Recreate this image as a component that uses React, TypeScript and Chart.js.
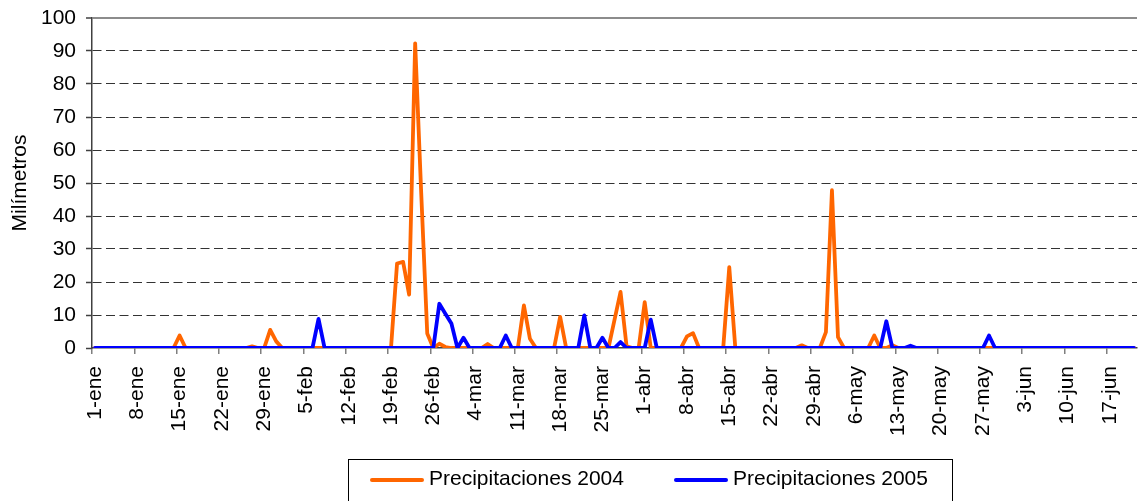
import React, { useEffect, useRef } from 'react';
import { Chart, registerables } from 'chart.js';

Chart.register(...registerables);

// ---------- data ----------
const monthNames = ['ene', 'feb', 'mar', 'abr', 'may', 'jun'];
const monthDays = [31, 29, 31, 30, 31, 21];
const categories: string[] = [];
monthNames.forEach((m, k) => {
  for (let d = 1; d <= monthDays[k]; d++) categories.push(`${d}-${m}`);
});
const labelEvery = 7;

const seriesNames = ['Precipitaciones 2004', 'Precipitaciones 2005'];
const seriesColors = ['#FF6600', '#0000FF'];

// one row per week (7 days)
const precip2004 = [
  0, 0, 0, 0, 0, 0, 0,
  0, 0, 0, 0, 0, 0, 0,
  3.8, 0, 0, 0, 0, 0, 0,
  0, 0, 0, 0, 0, 0.5, 0,
  0, 5.5, 2, 0, 0, 0, 0,
  0, 0, 0, 0, 0, 0, 0,
  0, 0, 0, 0, 0, 0, 0,
  0, 25.6, 26.1, 16.2, 92.3, 47, 4.4,
  0, 1.3, 0.3, 0, 0, 0, 0,
  0, 0, 1.2, 0, 0, 0, 0,
  0, 12.9, 2.8, 0, 0, 0, 0,
  9.4, 0, 0, 0, 0, 0, 0,
  0, 0, 8.5, 17, 0.5, 0, 0,
  13.9, 0, 0, 0, 0, 0, 0,
  3.5, 4.5, 0, 0, 0, 0, 0,
  24.5, 0, 0, 0, 0, 0, 0,
  0, 0, 0, 0, 0, 0.8, 0,
  0, 0, 4.8, 47.8, 3.3, 0, 0,
  0, 0, 0, 3.8, 0, 0, 0.8,
  0, 0, 0, 0, 0, 0, 0,
  0, 0, 0, 0, 0, 0, 0,
  0, 0, 0, 0, 0, 0, 0,
  0, 0, 0, 0, 0, 0, 0,
  0, 0, 0, 0, 0, 0, 0,
  0, 0, 0, 0, 0,
];

const precip2005 = [
  0, 0, 0, 0, 0, 0, 0,
  0, 0, 0, 0, 0, 0, 0,
  0, 0, 0, 0, 0, 0, 0,
  0, 0, 0, 0, 0, 0, 0,
  0, 0, 0, 0, 0, 0, 0,
  0, 0, 8.8, 0, 0, 0, 0,
  0, 0, 0, 0, 0, 0, 0,
  0, 0, 0, 0, 0, 0, 0,
  0, 13.4, 10.4, 7.4, 0, 3.1, 0,
  0, 0, 0, 0, 0, 3.8, 0,
  0, 0, 0, 0, 0, 0, 0,
  0, 0, 0, 0, 9.9, 0, 0,
  3.1, 0, 0, 1.8, 0, 0, 0,
  0, 8.6, 0, 0, 0, 0, 0,
  0, 0, 0, 0, 0, 0, 0,
  0, 0, 0, 0, 0, 0, 0,
  0, 0, 0, 0, 0, 0, 0,
  0, 0, 0, 0, 0, 0, 0,
  0, 0, 0, 0, 0, 8.1, 0,
  0, 0, 0.7, 0, 0, 0, 0,
  0, 0, 0, 0, 0, 0, 0,
  0, 3.8, 0, 0, 0, 0, 0,
  0, 0, 0, 0, 0, 0, 0,
  0, 0, 0, 0, 0, 0, 0,
  0, 0, 0, 0, 0,
];

const yMin = 0;
const yMax = 100;
const yStep = 10;
const yTitle = 'Milímetros';

// ---------- style ----------
const FONT = '"Liberation Sans", Arial, Helvetica, sans-serif';
const FONT_SIZE = 21;

const boxLegendPlugin = {
  id: 'boxLegend',
  afterDraw(chart: any) {
    const ctx = chart.ctx as CanvasRenderingContext2D;
    ctx.save();
    ctx.strokeStyle = '#000000';
    ctx.lineWidth = 1;
    ctx.strokeRect(348.5, 459.5, 604, 60);
    const samples = [372, 676];
    ctx.font = `${FONT_SIZE}px ${FONT}`;
    ctx.textBaseline = 'middle';
    ctx.textAlign = 'left';
    seriesNames.forEach((name, i) => {
      const x0 = samples[i];
      ctx.strokeStyle = seriesColors[i];
      ctx.lineWidth = 4;
      ctx.lineCap = 'round';
      ctx.beginPath();
      ctx.moveTo(x0, 480);
      ctx.lineTo(x0 + 50, 480);
      ctx.stroke();
      ctx.fillStyle = '#000000';
      ctx.fillText(name, x0 + 57, 479);
    });
    ctx.restore();
  },
};

export default function App() {
  const canvasRef = useRef<HTMLCanvasElement | null>(null);

  useEffect(() => {
    const canvas = canvasRef.current;
    if (!canvas) return;
    const chart = new Chart(canvas, {
      type: 'line',
      data: {
        labels: categories,
        datasets: [
          {
            label: seriesNames[0],
            data: precip2004,
            borderColor: seriesColors[0],
            backgroundColor: seriesColors[0],
            borderWidth: 3.8,
            pointRadius: 0,
            tension: 0,
            borderJoinStyle: 'round',
            borderCapStyle: 'round',
            order: 1,
          },
          {
            label: seriesNames[1],
            data: precip2005,
            borderColor: seriesColors[1],
            backgroundColor: seriesColors[1],
            borderWidth: 3.8,
            pointRadius: 0,
            tension: 0,
            borderJoinStyle: 'round',
            borderCapStyle: 'round',
            order: 0,
          },
        ],
      },
      options: {
        animation: false,
        responsive: false,
        maintainAspectRatio: false,
        devicePixelRatio: 1,
        layout: { padding: { left: 0, right: 4, top: 18, bottom: 0 } },
        plugins: {
          legend: { display: false },
          tooltip: { enabled: false },
        },
        scales: {
          x: {
            type: 'category',
            offset: true,
            grid: {
              offset: true,
              drawOnChartArea: false,
              drawTicks: true,
              tickLength: 6,
              color: (c: any) => (c.index % labelEvery === 0 ? '#7f7f7f' : 'rgba(0,0,0,0)'),
              tickColor: (c: any) => (c.index % labelEvery === 0 ? '#7f7f7f' : 'rgba(0,0,0,0)'),
              lineWidth: 1.5,
            },
            border: { display: true, color: '#404040', width: 1.5 },
            ticks: {
              autoSkip: false,
              maxRotation: 90,
              minRotation: 90,
              padding: 12,
              color: '#000000',
              font: { family: FONT, size: FONT_SIZE },
              callback: (_v: any, i: number) => (i % labelEvery === 0 ? categories[i] : ''),
            },
            afterFit: (s: any) => {
              s.height = 153;
              s.paddingLeft = 0;
              s.paddingRight = 0;
            },
          },
          y: {
            min: yMin,
            max: yMax,
            ticks: {
              stepSize: yStep,
              padding: 10,
              color: '#000000',
              font: { family: FONT, size: FONT_SIZE },
            },
            grid: {
              drawTicks: true,
              tickLength: 6,
              color: (c: any) =>
                c.tick && c.tick.value === yMax
                  ? '#8c8c8c'
                  : c.tick && c.tick.value === yMin
                  ? 'rgba(0,0,0,0)'
                  : '#333333',
              lineWidth: (c: any) => (c.tick && c.tick.value === yMax ? 2 : 1),
              tickColor: '#404040',
              tickWidth: 1.5,
            },
            border: {
              display: true,
              color: '#404040',
              width: 1.5,
              dash: (c: any) => (c.tick && c.tick.value === yMax ? [] : [9, 4.5]),
            },
            title: {
              display: true,
              text: yTitle,
              color: '#000000',
              font: { family: FONT, size: FONT_SIZE },
              padding: { top: 8, bottom: 4 },
            },
            afterFit: (s: any) => {
              s.width = 92;
              s.paddingTop = 0;
              s.paddingBottom = 0;
            },
          },
        },
      } as any,
      plugins: [boxLegendPlugin],
    });
    return () => chart.destroy();
  }, []);

  return (
    <div style={{ position: 'absolute', left: 0, top: 0, width: 1141, height: 501, background: '#ffffff' }}>
      <canvas ref={canvasRef} width={1141} height={501} style={{ display: 'block', width: 1141, height: 501 }} />
    </div>
  );
}
